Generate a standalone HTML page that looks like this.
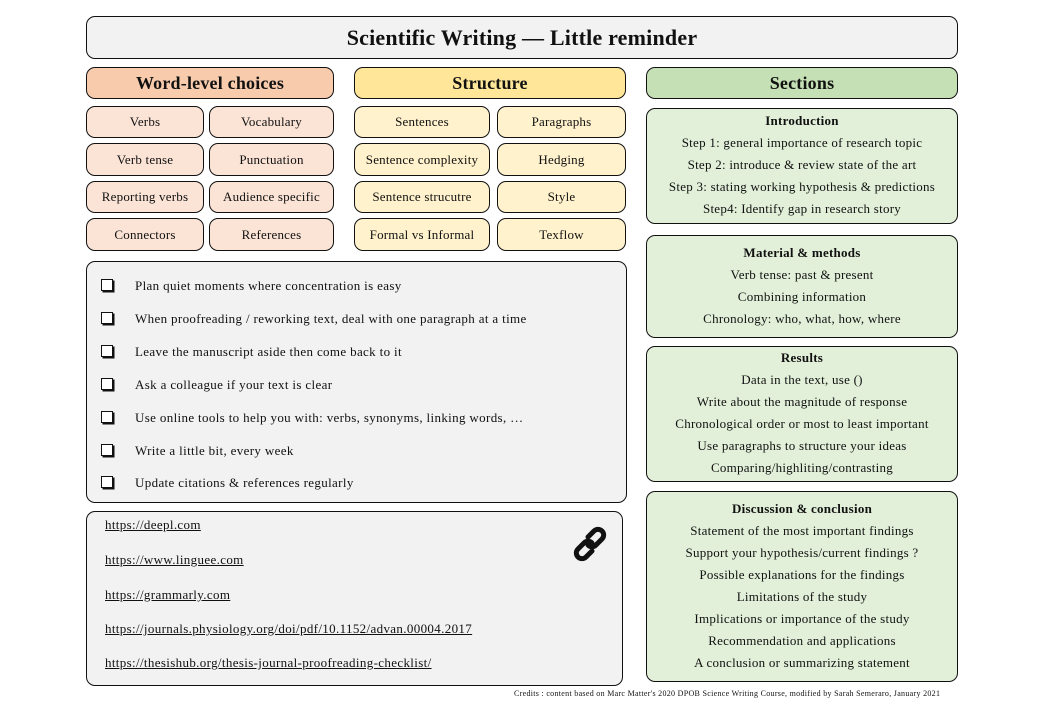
<!DOCTYPE html>
<html><head><meta charset="utf-8"><style>
body{margin:0;width:1040px;height:720px;background:#fff;position:relative;overflow:hidden;font-family:"Liberation Serif",serif;color:#111}
.b{position:absolute;border:1.6px solid #111;border-radius:9px;box-sizing:border-box;display:flex;align-items:center;justify-content:center;text-align:center;font-size:13px;letter-spacing:0.2px}
.h{font-weight:bold;font-size:18px}
.w{background:#fbe4d6}.s{background:#fff2cc}.g{background:#e2f0d9}.gr{background:#f2f2f2}
.t{position:absolute;font-size:13px;white-space:nowrap;letter-spacing:0.35px}
.c{position:absolute;width:312px;text-align:center;font-size:13px;white-space:nowrap;letter-spacing:0.25px}
.cb{position:absolute;left:101px;width:10px;height:10px;border:1.3px solid #111;box-shadow:1.5px 1.5px 0 #111;background:#fff}
a{color:#111;text-decoration:underline}
</style></head><body>
<div class="b gr" style="left:86px;top:16px;width:872px;height:43px;font-size:22px;font-weight:bold">Scientific Writing — Little reminder</div>
<div class="b h" style="left:86px;top:67px;width:248px;height:32px;background:#f8cbad">Word-level choices</div>
<div class="b h" style="left:354px;top:67px;width:272px;height:32px;background:#ffe699">Structure</div>
<div class="b h" style="left:646px;top:67px;width:312px;height:32px;background:#c5e0b4">Sections</div>

<div class="b w" style="left:86px;top:106px;width:118px;height:32px">Verbs</div>
<div class="b w" style="left:209px;top:106px;width:125px;height:32px">Vocabulary</div>
<div class="b w" style="left:86px;top:143px;width:118px;height:33px">Verb tense</div>
<div class="b w" style="left:209px;top:143px;width:125px;height:33px">Punctuation</div>
<div class="b w" style="left:86px;top:181px;width:118px;height:32px">Reporting verbs</div>
<div class="b w" style="left:209px;top:181px;width:125px;height:32px">Audience specific</div>
<div class="b w" style="left:86px;top:218px;width:118px;height:33px">Connectors</div>
<div class="b w" style="left:209px;top:218px;width:125px;height:33px">References</div>

<div class="b s" style="left:354px;top:106px;width:136px;height:32px">Sentences</div>
<div class="b s" style="left:497px;top:106px;width:129px;height:32px">Paragraphs</div>
<div class="b s" style="left:354px;top:143px;width:136px;height:33px">Sentence complexity</div>
<div class="b s" style="left:497px;top:143px;width:129px;height:33px">Hedging</div>
<div class="b s" style="left:354px;top:181px;width:136px;height:32px">Sentence strucutre</div>
<div class="b s" style="left:497px;top:181px;width:129px;height:32px">Style</div>
<div class="b s" style="left:354px;top:218px;width:136px;height:33px">Formal vs Informal</div>
<div class="b s" style="left:497px;top:218px;width:129px;height:33px">Texflow</div>

<div class="b gr" style="left:86px;top:261px;width:541px;height:242px"></div>
<div class="cb" style="top:279px"></div><div class="t" style="left:135px;top:278px">Plan quiet moments where concentration is easy</div>
<div class="cb" style="top:312px"></div><div class="t" style="left:135px;top:311px">When proofreading / reworking text, deal with one paragraph at a time</div>
<div class="cb" style="top:345px"></div><div class="t" style="left:135px;top:344px">Leave the manuscript aside then come back to it</div>
<div class="cb" style="top:378px"></div><div class="t" style="left:135px;top:377px">Ask a colleague if your text is clear</div>
<div class="cb" style="top:411px"></div><div class="t" style="left:135px;top:410px">Use online tools to help you with: verbs, synonyms, linking words, …</div>
<div class="cb" style="top:444px"></div><div class="t" style="left:135px;top:443px">Write a little bit, every week</div>
<div class="cb" style="top:476px"></div><div class="t" style="left:135px;top:475px">Update citations &amp; references regularly</div>

<div class="b gr" style="left:86px;top:511px;width:537px;height:175px"></div>
<div class="t" style="left:105px;top:517px"><a>https://deepl.com</a></div>
<div class="t" style="left:105px;top:552px"><a>https://www.linguee.com</a></div>
<div class="t" style="left:105px;top:587px"><a>https://grammarly.com</a></div>
<div class="t" style="left:105px;top:621px"><a>https://journals.physiology.org/doi/pdf/10.1152/advan.00004.2017</a></div>
<div class="t" style="left:105px;top:655px"><a>https://thesishub.org/thesis-journal-proofreading-checklist/</a></div>
<svg style="position:absolute;left:572px;top:526px" width="36" height="36" viewBox="0 0 36 36"><g fill="none" stroke="#111" stroke-width="5" stroke-linecap="round"><path d="M16 11 L22 5 a5.5 5.5 0 0 1 8 8 L24 19 a5.5 5.5 0 0 1 -8 0"/><path d="M20 25 L14 31 a5.5 5.5 0 0 1 -8 -8 L12 17 a5.5 5.5 0 0 1 8 0"/></g></svg>

<div class="b g" style="left:646px;top:108px;width:312px;height:116px"></div>
<div class="c" style="left:646px;top:113px;font-weight:bold">Introduction</div>
<div class="c" style="left:646px;top:135px">Step 1: general importance of research topic</div>
<div class="c" style="left:646px;top:157px">Step 2: introduce &amp; review state of the art</div>
<div class="c" style="left:646px;top:179px">Step 3: stating working hypothesis &amp; predictions</div>
<div class="c" style="left:646px;top:201px">Step4: Identify gap in research story</div>

<div class="b g" style="left:646px;top:235px;width:312px;height:103px"></div>
<div class="c" style="left:646px;top:245px;font-weight:bold">Material &amp; methods</div>
<div class="c" style="left:646px;top:267px">Verb tense: past &amp; present</div>
<div class="c" style="left:646px;top:289px">Combining information</div>
<div class="c" style="left:646px;top:311px">Chronology: who, what, how, where</div>

<div class="b g" style="left:646px;top:346px;width:312px;height:136px"></div>
<div class="c" style="left:646px;top:350px;font-weight:bold">Results</div>
<div class="c" style="left:646px;top:372px">Data in the text, use ()</div>
<div class="c" style="left:646px;top:394px">Write about the magnitude of response</div>
<div class="c" style="left:646px;top:416px">Chronological order or most to least important</div>
<div class="c" style="left:646px;top:438px">Use paragraphs to structure your ideas</div>
<div class="c" style="left:646px;top:460px">Comparing/highliting/contrasting</div>

<div class="b g" style="left:646px;top:491px;width:312px;height:191px"></div>
<div class="c" style="left:646px;top:501px;font-weight:bold">Discussion &amp; conclusion</div>
<div class="c" style="left:646px;top:523px">Statement of the most important findings</div>
<div class="c" style="left:646px;top:545px">Support your hypothesis/current findings ?</div>
<div class="c" style="left:646px;top:567px">Possible explanations for the findings</div>
<div class="c" style="left:646px;top:589px">Limitations of the study</div>
<div class="c" style="left:646px;top:611px">Implications or importance of the study</div>
<div class="c" style="left:646px;top:633px">Recommendation and applications</div>
<div class="c" style="left:646px;top:655px">A conclusion or summarizing statement</div>

<div class="t" style="left:514px;top:689px;font-size:8px;letter-spacing:0.3px">Credits : content based on Marc Matter's 2020 DPOB Science Writing Course, modified by Sarah Semeraro, January 2021</div>
</body></html>
